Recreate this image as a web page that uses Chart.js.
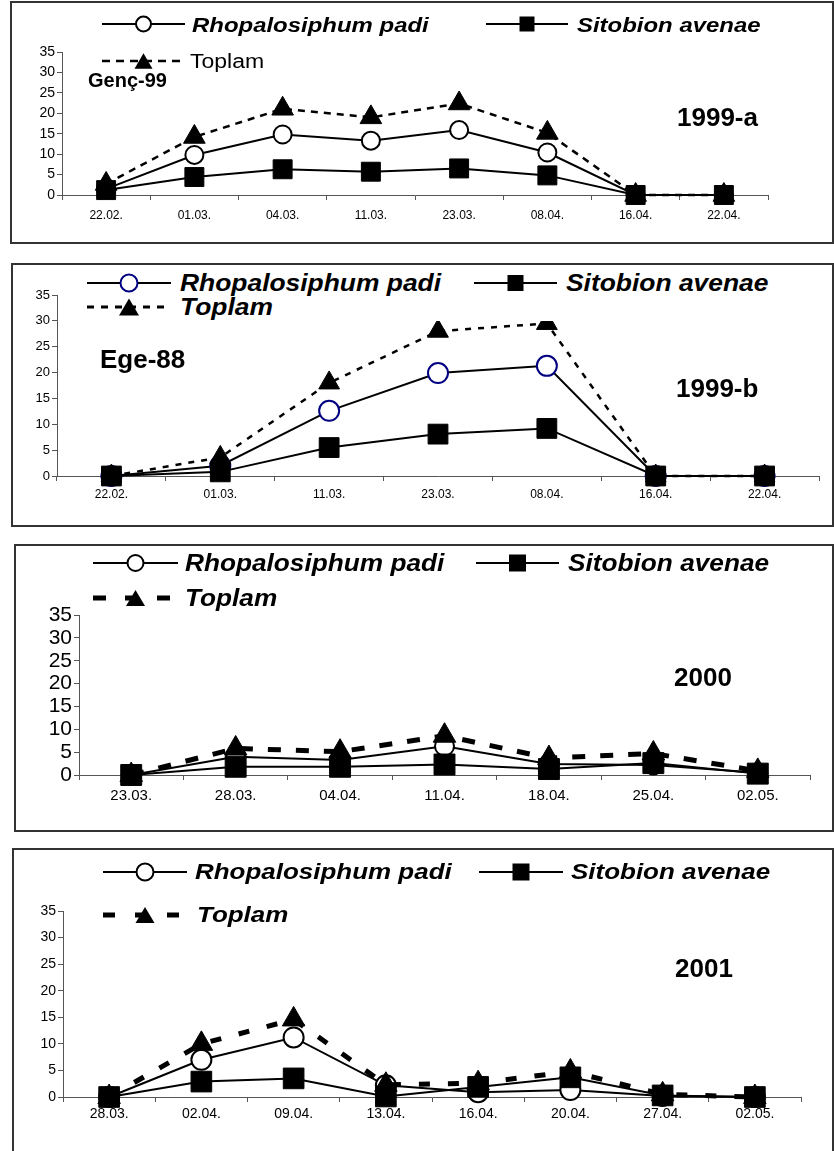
<!DOCTYPE html>
<html>
<head>
<meta charset="utf-8">
<script src="https://cdn.jsdelivr.net/npm/chart.js@4/dist/chart.umd.min.js"></script>
<style>
body{margin:0;background:#fff;width:834px;height:1151px;position:relative;overflow:hidden;font-family:"Liberation Sans",Arial,sans-serif;}
.box{position:absolute;border:2px solid #333;box-sizing:border-box;}
canvas{position:absolute;left:0;}
.t{position:absolute;white-space:nowrap;line-height:1;color:#000;transform-origin:left center;z-index:3;}
.b{font-weight:bold;}
.bi{font-weight:bold;font-style:italic;}
.lg{position:absolute;z-index:3;overflow:visible;}
.mask{position:absolute;background:#fff;z-index:2;}
</style>
</head>
<body>
<div class="box" style="left:10px;top:1px;width:824px;height:243px"></div>
<div class="box" style="left:11px;top:263px;width:823px;height:264px"></div>
<div class="box" style="left:14px;top:544px;width:820px;height:288px"></div>
<div class="box" style="left:12px;top:848px;width:822px;height:312px"></div>

<canvas id="c1" width="834" height="243" style="top:0px"></canvas>
<canvas id="c2" width="834" height="262" style="top:264px"></canvas>
<canvas id="c3" width="834" height="286" style="top:545px"></canvas>
<canvas id="c4" width="834" height="302" style="top:849px"></canvas>

<div class="mask" style="left:75px;top:266px;width:715px;height:55px"></div>

<div id="texts"></div>

<script>
// 1999-a (Genç-99)
let dates1999a = ['22.02.','01.03.','04.03.','11.03.','23.03.','08.04.','16.04.','22.04.'];
let padi1999a = [1.5, 9.8, 14.8, 13.3, 15.9, 10.4, 0, 0];
let avenae1999a = [1.2, 4.4, 6.3, 5.7, 6.5, 4.8, 0, 0];
let toplam1999a = [2.7, 14.2, 21.1, 19.0, 22.4, 15.2, 0, 0];

// 1999-b (Ege-88)
let dates1999b = ['22.02.','01.03.','11.03.','23.03.','08.04.','16.04.','22.04.'];
let padi1999b = [0, 2.0, 12.6, 19.9, 21.3, 0, 0];
let avenae1999b = [0, 0.8, 5.5, 8.1, 9.2, 0, 0];
let toplam1999b = [0, 3.6, 18.0, 28.0, 29.5, 0, 0];

// 2000
let dates2000 = ['23.03.','28.03.','04.04.','11.04.','18.04.','25.04.','02.05.'];
let padi2000 = [0, 4.0, 3.3, 6.3, 2.4, 2.2, 0.5];
let avenae2000 = [0, 1.8, 1.8, 2.3, 1.3, 2.6, 0.3];
let toplam2000 = [0, 5.8, 5.1, 8.6, 3.7, 4.7, 0.9];

// 2001
let dates2001 = ['28.03.','02.04.','09.04.','13.04.','16.04.','20.04.','27.04.','02.05.'];
let padi2001 = [0, 7.0, 11.2, 2.2, 0.9, 1.3, 0.2, 0];
let avenae2001 = [0, 2.9, 3.5, 0.1, 1.9, 3.7, 0.3, 0];
let toplam2001 = [0, 10.0, 14.6, 2.3, 2.6, 4.8, 0.5, 0];

let yMax = 35;
let yStep = 5;

let font = '"Liberation Sans", Arial, sans-serif';

function makeChart(id, labels, padi, avenae, toplam, c){
    new Chart(document.getElementById(id), {
        type:'line',
        data:{
            labels:labels,
            datasets:[
                {label:'Sitobion avenae', data:avenae, borderColor:'#000', borderWidth:2,
                 pointStyle:'rect', pointRadius:c.sq, pointBackgroundColor:'#000', pointBorderColor:'#000', pointBorderWidth:1, clip:false},
                {label:'Toplam', data:toplam, borderColor:'#000', borderWidth:c.dashW, borderDash:c.dash,
                 pointStyle:'triangle', pointRadius:c.tri, pointBackgroundColor:'#000', pointBorderColor:'#000', pointBorderWidth:1, clip:false},
                {label:'Rhopalosiphum padi', data:padi, borderColor:'#000', borderWidth:2,
                 pointStyle:'circle', pointRadius:c.ci, pointBackgroundColor:'#fff', pointBorderColor:c.ciCol, pointBorderWidth:2, clip:false}
            ]
        },
        options:{
            responsive:false, animation:false, devicePixelRatio:1, events:[],
            layout:{padding:c.pad},
            plugins:{legend:{display:false}, tooltip:{enabled:false}},
            scales:{
                x:{offset:true, clip:false,
                   grid:{offset:true, drawOnChartArea:false, tickLength:5, color:'#555'},
                   border:{color:'#555', width:1},
                   ticks:{color:'#000', font:{family:font, size:c.xf}, padding:c.xp, maxRotation:0, autoSkip:false},
                   afterFit:function(s){ s.height = c.xH; }},
                y:{min:0, max:yMax, clip:false,
                   grid:{drawOnChartArea:false, tickLength:5, color:'#555'},
                   border:{color:'#555', width:1},
                   ticks:{stepSize:yStep, autoSkip:false, color:'#000', font:{family:font, size:c.yf}, padding:2},
                   afterFit:function(s){ s.width = c.yW; }}
            }
        }
    });
}

makeChart('c1', dates1999a, padi1999a, avenae1999a, toplam1999a,
    {sq:13.4, tri:12.5, ci:9, ciCol:'#000', dashW:2.5, dash:[7,6], xf:12, xp:8, xH:30, yf:14, yW:30,
     pad:{left:32, right:66, top:52, bottom:18}});
makeChart('c2', dates1999b, padi1999b, avenae1999b, toplam1999b,
    {sq:14, tri:12, ci:10, ciCol:'#000080', dashW:2.5, dash:[6,7], xf:12, xp:6, xH:30, yf:13, yW:28,
     pad:{left:29, right:1, top:31, bottom:20}});
makeChart('c3', dates2000, padi2000, avenae2000, toplam2000,
    {sq:14.8, tri:13, ci:9.5, ciCol:'#000', dashW:5, dash:[13,15], xf:15, xp:7, xH:34, yf:21, yW:40,
     pad:{left:39, right:24, top:70, bottom:22}});
makeChart('c4', dates2001, padi2001, avenae2001, toplam2001,
    {sq:14.6, tri:13, ci:10, ciCol:'#000', dashW:5, dash:[11,18], xf:14, xp:4, xH:30, yf:14, yW:30,
     pad:{left:33, right:33, top:62, bottom:24}});

// texts and legends
let box = document.getElementById('texts');
function text(str, cls, left, cy, size, sx){
    let s = document.createElement('span');
    s.className = 't ' + cls;
    s.textContent = str;
    s.style.left = left + 'px';
    s.style.top = (cy - 0.49 * size) + 'px';
    s.style.fontSize = size + 'px';
    if (sx) s.style.transform = 'scaleX(' + sx + ')';
    box.appendChild(s);
}
function sample(x1, x2, cy, kind, o){
    let w = x2 - x1, m = w / 2;
    let line = '<line x1="0" y1="15" x2="' + w + '" y2="15" stroke="#000" stroke-width="' + (o.lw || 2) + '"' +
        (o.dash ? ' stroke-dasharray="' + o.dash.join(' ') + '"' : '') + '/>';
    let mark = '';
    if (kind === 'circle'){
        mark = '<circle cx="' + m + '" cy="15" r="' + o.r + '" fill="#fff" stroke="' + (o.col || '#000') + '" stroke-width="2"/>';
    } else if (kind === 'square'){
        mark = '<rect x="' + (m - o.r / 2) + '" y="' + (15 - o.r / 2) + '" width="' + o.r + '" height="' + o.r + '" fill="#000"/>';
    } else {
        let h = o.r * 0.85;
        mark = '<polygon points="' + (m - o.r / 2) + ',' + (15 + h / 2) + ' ' + (m + o.r / 2) + ',' + (15 + h / 2) + ' ' + m + ',' + (15 - h / 2) + '" fill="#000"/>';
    }
    let d = document.createElement('div');
    d.className = 'lg';
    d.style.left = x1 + 'px';
    d.style.top = (cy - 15) + 'px';
    d.innerHTML = '<svg width="' + w + '" height="30">' + line + mark + '</svg>';
    box.appendChild(d);
}

// panel 1
sample(102, 185, 24, 'circle', {r:7.5});
text('Rhopalosiphum padi', 'bi', 192, 24, 21, 1.14);
sample(486, 568, 24, 'square', {r:15});
text('Sitobion avenae', 'bi', 577, 24, 21, 1.14);
sample(102, 185, 61, 'triangle', {r:18, dash:[8,6], lw:2.5});
text('Toplam', '', 190, 61, 20, 1.15);
text('Genç-99', 'b', 88, 80, 20);
text('1999-a', 'b', 677, 117, 26);

// panel 2
sample(87, 171, 283, 'circle', {r:8.5, col:'#000080'});
text('Rhopalosiphum padi', 'bi', 180, 283, 24, 1.1);
sample(474, 557, 283, 'square', {r:16});
text('Sitobion avenae', 'bi', 566, 283, 24, 1.1);
sample(87, 171, 307, 'triangle', {r:20, dash:[7,7], lw:3});
text('Toplam', 'bi', 180, 307, 24, 1.1);
text('Ege-88', 'b', 100, 359, 26);
text('1999-b', 'b', 676, 388, 26);

// panel 3
sample(93, 178, 563, 'circle', {r:8});
text('Rhopalosiphum padi', 'bi', 185, 563, 23, 1.14);
sample(476, 559, 563, 'square', {r:17});
text('Sitobion avenae', 'bi', 568, 563, 23, 1.14);
sample(93, 178, 598, 'triangle', {r:19, dash:[13,19], lw:5});
text('Toplam', 'bi', 185, 598, 23, 1.14);
text('2000', 'b', 674, 677, 26);

// panel 4
sample(103, 187, 872, 'circle', {r:8.5});
text('Rhopalosiphum padi', 'bi', 195, 872, 22, 1.18);
sample(479, 563, 872, 'square', {r:17});
text('Sitobion avenae', 'bi', 571, 872, 22, 1.18);
sample(103, 187, 915, 'triangle', {r:19, dash:[12,20], lw:5});
text('Toplam', 'bi', 197, 915, 22, 1.18);
text('2001', 'b', 675, 968, 26);
</script>
</body>
</html>
